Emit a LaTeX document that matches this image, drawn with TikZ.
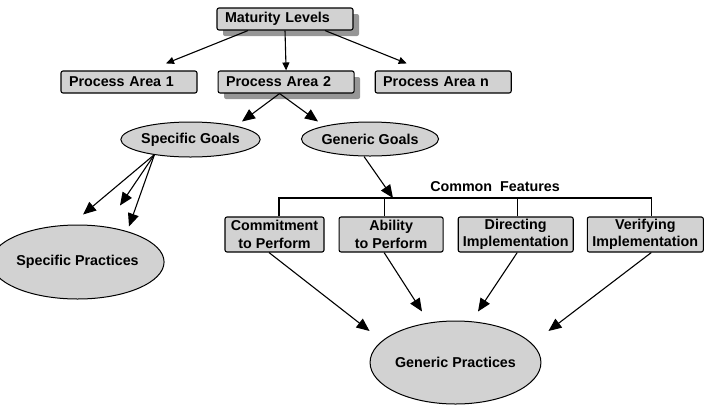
\documentclass[tikz,border=0pt]{standalone}
\usepackage{fontspec}
\setmainfont{Liberation Sans}
\usepackage{tikz}
\usetikzlibrary{arrows.meta,positioning,shapes.geometric,shadows}
\definecolor{boxgray}{RGB}{210,210,210}
\definecolor{shadegray}{RGB}{150,150,150}

\begin{document}
\begin{tikzpicture}[x=1pt,y=-1pt,font=\fontsize{14.3}{17.5}\selectfont\bfseries,
  box/.style={draw,line width=1.1pt,fill=boxgray,rounded corners=2pt,minimum height=22pt,inner xsep=8pt,inner ysep=2pt,text width=120pt,align=left},
  fbox/.style={draw,line width=1.1pt,fill=boxgray,rounded corners=2pt,minimum height=35pt,inner xsep=1pt,inner ysep=1pt,align=center},
  oval/.style={draw,line width=1pt,fill=boxgray,ellipse,inner sep=0pt},
  shade/.style={drop shadow={shadow xshift=6pt,shadow yshift=-6pt,fill=shadegray,opacity=1}},
  arr/.style={-{Triangle[length=8pt,width=7pt]},line width=1.1pt},
  barr/.style={-{Triangle[length=13pt,width=11pt]},line width=1.1pt}]
\useasboundingbox (0,0) rectangle (708,410);
\node[box,shade] (bxMat) at (285,19) {Maturity Levels};
\node[box] (bxPA1) at (129,82) {Process Area 1};
\node[box,shade,right=20pt of bxPA1] (bxPA2) {Process Area 2};
\node[box,right=20pt of bxPA2] (bxPAn) {Process Area n};
\node[oval,minimum width=133pt,minimum height=35pt] (elSG) at (190.5,139.5) {Specific Goals};
\node[oval,minimum width=134pt,minimum height=34pt] (elGG) at (370,139) {Generic Goals};
\node[oval,minimum width=143pt,minimum height=74pt] (elSP) at (77.5,262) {Specific Practices};
\node (lbCF) at (495,187) {Common\ \ Features};
\node[fbox,minimum width=99pt] (bxCom) at (274.5,234.5) {Commitment\\to Perform};
\node[fbox,minimum width=104pt,right=14pt of bxCom] (bxAbi) {Ability\\to Perform};
\node[fbox,minimum width=115pt,right=14pt of bxAbi] (bxDir) {Directing\\Implementation};
\node[fbox,minimum width=116pt,right=13pt of bxDir] (bxVer) {Verifying\\Implementation};
\node[oval,minimum width=145pt,minimum height=83pt] (elGP) at (455.5,362.5) {Generic Practices};
\coordinate (cfbar) at (0,198);
\coordinate (cfhit) at (393,198);
\coordinate (sgfoot) at ([xshift=-36pt,yshift=3pt]elSG.south);
\draw[arr] ([xshift=-37pt]bxMat.south) -- ([xshift=37pt,yshift=7pt]bxPA1.north);
\draw[arr] (bxMat.south) -- (bxPA2.north);
\draw[arr] ([xshift=40pt]bxMat.south) -- ([xshift=-36.5pt,yshift=7pt]bxPAn.north);
\draw[barr] ([xshift=-6.5pt]bxPA2.south) -- ([xshift=51.5pt]elSG.north);
\draw[barr] ([xshift=-6.5pt]bxPA2.south) -- ([xshift=-52pt]elGG.north);
\draw[barr] (sgfoot) -- ([xshift=5.5pt,yshift=10pt]elSP.north);
\draw[barr] (sgfoot) -- ([xshift=42.5pt,yshift=19pt]elSP.north);
\draw[barr] (sgfoot) -- ([xshift=51.5pt,yshift=-2pt]elSP.north);
\draw[barr] ([xshift=-6pt]elGG.south) -- (cfhit);
\draw[line width=1.1pt] ([xshift=4.5pt]bxCom.north) |- ([xshift=6pt]bxVer.north |- cfbar) -- ([xshift=6pt]bxVer.north);
\draw[line width=1.1pt] ([xshift=-7pt]bxAbi.north) -- ([xshift=-7pt]bxAbi.north |- cfbar);
\draw[line width=1.1pt] ([xshift=1.5pt]bxDir.north) -- ([xshift=1.5pt]bxDir.north |- cfbar);
\draw[barr] ([xshift=-5.5pt]bxCom.south) -- ([yshift=31.5pt]elGP.west);
\draw[barr] ([xshift=-7pt]bxAbi.south) -- ([xshift=-33.5pt,yshift=9pt]elGP.north);
\draw[barr] ([xshift=1.5pt]bxDir.south) -- ([xshift=22.5pt,yshift=9pt]elGP.north);
\draw[barr] ([xshift=6pt]bxVer.south) -- ([xshift=7pt,yshift=31.5pt]elGP.east);
\end{tikzpicture}
\end{document}
